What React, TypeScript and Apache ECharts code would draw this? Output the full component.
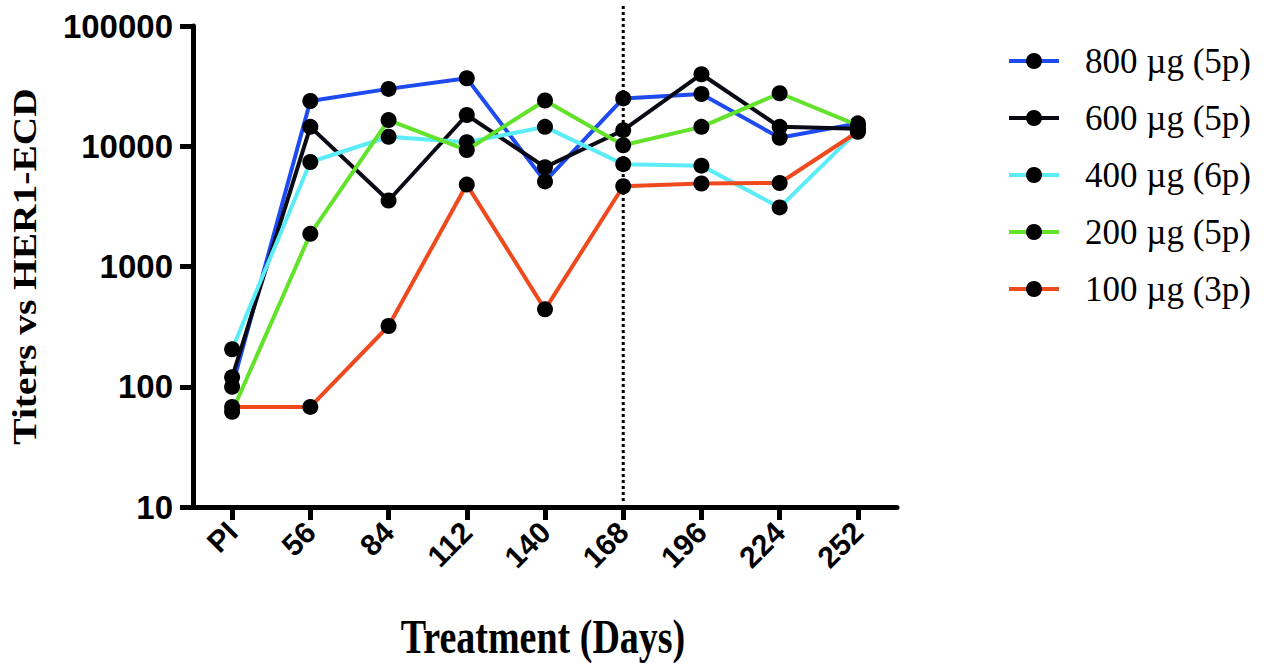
import React, { useEffect, useRef } from "react";
import * as echarts from "echarts";

const categories = ["PI", "56", "84", "112", "140", "168", "196", "224", "252"];
const seriesNames = ["800 µg (5p)", "600 µg (5p)", "400 µg (6p)", "200 µg (5p)", "100 µg (3p)"];
const s800 = [100, 23800, 30000, 36800, 5100, 25000, 27200, 11750, 15500];
const s600 = [120, 14500, 3540, 18200, 6700, 13600, 39700, 14500, 14000];
const s400 = [205, 7400, 12000, 10800, 14500, 7100, 6900, 3100, 13500];
const s200 = [62, 1870, 16500, 9300, 24000, 10200, 14500, 27600, 14900];
const s100 = [68, 68, 320, 4800, 440, 4650, 4900, 4950, 13200];
const seriesData = [s800, s600, s400, s200, s100];
const seriesColors = ["#1E4BF0", "#0A0A16", "#5CECF7", "#62E22A", "#EE4A1E"];
const yTicks = [10, 100, 1000, 10000, 100000];
const markerDay = "168";
const xTitle = "Treatment (Days)";
const yTitle = "Titers vs HER1-ECD";

export default function App() {
  const ref = useRef<HTMLDivElement>(null);
  useEffect(() => {
    if (!ref.current) return;
    const chart = echarts.init(ref.current, undefined, { renderer: "svg" });
    const option: any = {
      animation: false,
      backgroundColor: "#ffffff",
      grid: { left: 193, right: 370, top: 26, bottom: 156, containLabel: false },
      legend: {
        orient: "vertical",
        left: 1002,
        top: 38,
        itemWidth: 50,
        itemHeight: 20,
        itemGap: 21,
        data: seriesNames,
        lineStyle: { width: 4 },
        textStyle: {
          fontFamily: "'Liberation Serif', 'Times New Roman', serif",
          fontSize: 35,
          color: "#000",
          lineHeight: 36,
          padding: [0, 0, 0, 21],
        },
      },
      xAxis: {
        type: "category",
        data: categories,
        boundaryGap: true,
        axisLine: { show: true, lineStyle: { color: "#000", width: 5 } },
        axisTick: { show: true, alignWithLabel: true, length: 13, lineStyle: { color: "#000", width: 5 } },
        axisLabel: {
          interval: 0,
          rotate: 45,
          margin: 20,
          fontFamily: "'Liberation Sans', Arial, sans-serif",
          fontWeight: "bold",
          fontSize: 30,
          color: "#000",
        },
        splitLine: { show: false },
      },
      yAxis: {
        type: "log",
        logBase: 10,
        min: yTicks[0],
        max: yTicks[yTicks.length - 1],
        axisLine: { show: true, lineStyle: { color: "#000", width: 5 } },
        axisTick: { show: true, length: 13, lineStyle: { color: "#000", width: 5 } },
        minorTick: { show: false },
        splitLine: { show: false },
        axisLabel: {
          margin: 20,
          fontFamily: "'Liberation Sans', Arial, sans-serif",
          fontWeight: "bold",
          fontSize: 33,
          color: "#000",
          formatter: (v: number) => String(Math.round(v)),
        },
      },
      series: seriesNames.map((name, i) => ({
        name,
        type: "line",
        data: seriesData[i],
        symbol: "circle",
        symbolSize: 16,
        itemStyle: { color: "#000" },
        lineStyle: { color: seriesColors[i], width: 4 },
        z: 2 + i,
      })),
    };
    chart.setOption(option);
    const x = chart.convertToPixel({ xAxisIndex: 0 }, markerDay) as number;
    const yBottom = chart.convertToPixel({ yAxisIndex: 0 }, yTicks[0]) as number;
    const yTop = chart.convertToPixel({ yAxisIndex: 0 }, yTicks[yTicks.length - 1]) as number;
    const xLeft = chart.convertToPixel({ xAxisIndex: 0 }, categories[0]) as number;
    const xRight = chart.convertToPixel({ xAxisIndex: 0 }, categories[categories.length - 1]) as number;
    chart.setOption({
      graphic: [
        {
          type: "line",
          z: 1,
          shape: { x1: x, y1: 6, x2: x, y2: yBottom - 3 },
          style: { stroke: "#000", lineWidth: 3, lineDash: [3, 3] },
        },
        {
          type: "text",
          x: (xLeft + xRight) / 2 - 2,
          y: yBottom + 130,
          scaleX: 1,
          scaleY: 1.3,
          style: {
            text: xTitle,
            fontFamily: "'Liberation Serif', 'Times New Roman', serif",
            fontWeight: "bold",
            fontSize: 38,
            fill: "#000",
            textAlign: "center",
            textVerticalAlign: "middle",
          },
        },
        {
          type: "text",
          x: 24,
          y: (yTop + yBottom) / 2,
          rotation: Math.PI / 2,
          scaleX: 1.16,
          scaleY: 1,
          style: {
            text: yTitle,
            fontFamily: "'Liberation Serif', 'Times New Roman', serif",
            fontWeight: "bold",
            fontSize: 34,
            fill: "#000",
            textAlign: "center",
            textVerticalAlign: "middle",
          },
        },
      ],
    });
    return () => chart.dispose();
  }, []);
  return (
    <div
      ref={ref}
      style={{ position: "fixed", left: 0, top: 0, width: 1267, height: 663, background: "#fff" }}
    />
  );
}
